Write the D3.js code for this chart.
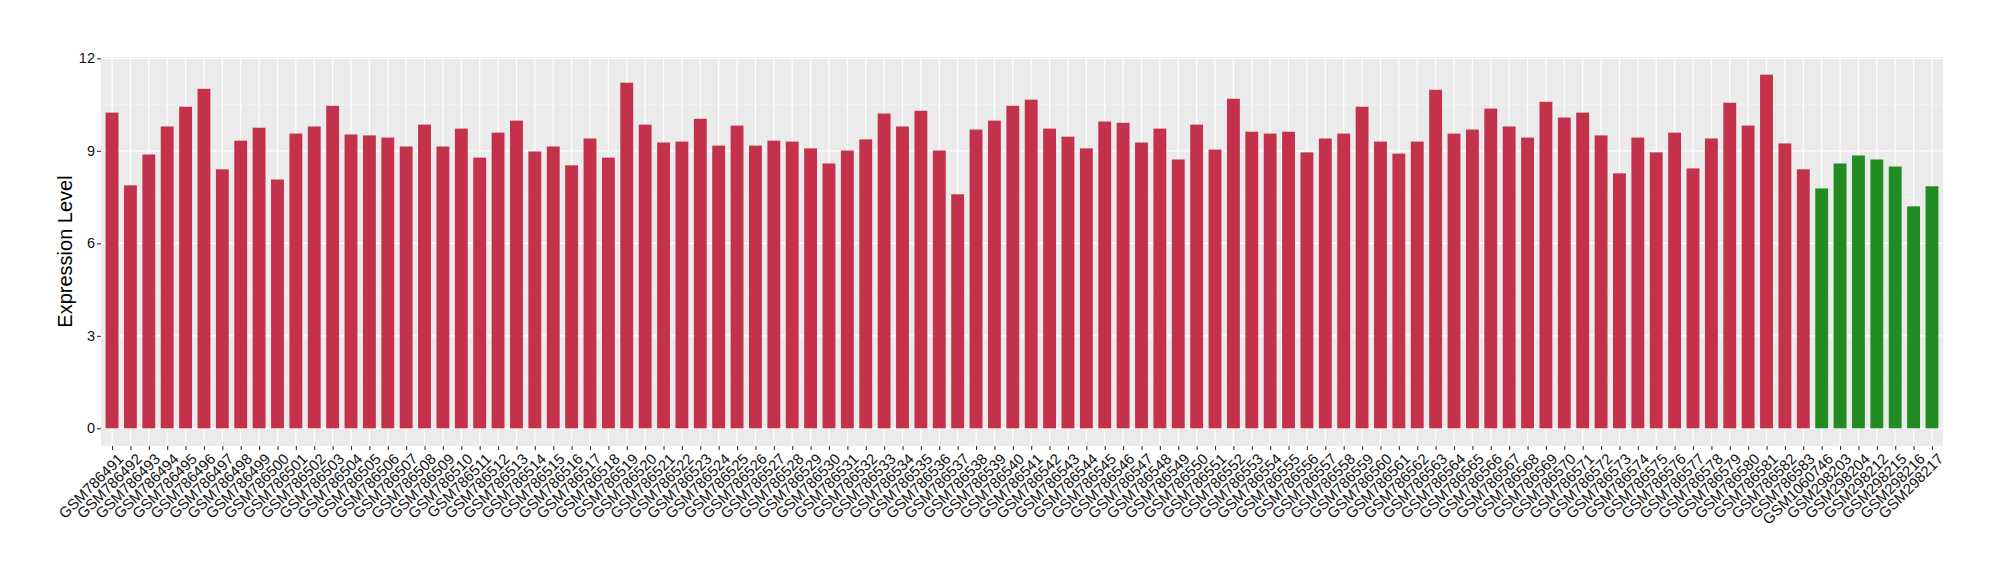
<!DOCTYPE html>
<html>
<head>
<meta charset="utf-8">
<script src="https://cdn.jsdelivr.net/npm/d3@7"></script>
<style>
    body { margin: 0; background: #ffffff; }
    svg { display: block; font-family: "Liberation Sans", Arial, Helvetica, sans-serif; }
</style>
</head>
<body>
<svg id="drawing_region"></svg>
<script>
// red group samples
const case_samples = [
    "GSM786491","GSM786492","GSM786493","GSM786494","GSM786495","GSM786496","GSM786497","GSM786498","GSM786499","GSM786500",
    "GSM786501","GSM786502","GSM786503","GSM786504","GSM786505","GSM786506","GSM786507","GSM786508","GSM786509","GSM786510",
    "GSM786511","GSM786512","GSM786513","GSM786514","GSM786515","GSM786516","GSM786517","GSM786518","GSM786519","GSM786520",
    "GSM786521","GSM786522","GSM786523","GSM786524","GSM786525","GSM786526","GSM786527","GSM786528","GSM786529","GSM786530",
    "GSM786531","GSM786532","GSM786533","GSM786534","GSM786535","GSM786536","GSM786537","GSM786538","GSM786539","GSM786540",
    "GSM786541","GSM786542","GSM786543","GSM786544","GSM786545","GSM786546","GSM786547","GSM786548","GSM786549","GSM786550",
    "GSM786551","GSM786552","GSM786553","GSM786554","GSM786555","GSM786556","GSM786557","GSM786558","GSM786559","GSM786560",
    "GSM786561","GSM786562","GSM786563","GSM786564","GSM786565","GSM786566","GSM786567","GSM786568","GSM786569","GSM786570",
    "GSM786571","GSM786572","GSM786573","GSM786574","GSM786575","GSM786576","GSM786577","GSM786578","GSM786579","GSM786580",
    "GSM786581","GSM786582","GSM786583"
];
const case_values = [
    10.24, 7.88, 8.88, 9.79, 10.43, 11.01, 8.40, 9.33, 9.75, 8.07,
    9.56, 9.79, 10.46, 9.53, 9.50, 9.43, 9.14, 9.85, 9.14, 9.72,
    8.78, 9.59, 9.98, 8.98, 9.14, 8.53, 9.40, 8.78, 11.21, 9.85,
    9.27, 9.30, 10.04, 9.17, 9.82, 9.17, 9.33, 9.30, 9.08, 8.59,
    9.01, 9.37, 10.21, 9.79, 10.30, 9.01, 7.59, 9.69, 9.98, 10.46,
    10.66, 9.72, 9.46, 9.08, 9.95, 9.91, 9.27, 9.72, 8.72, 9.85,
    9.04, 10.69, 9.62, 9.56, 9.62, 8.95, 9.40, 9.56, 10.43, 9.30,
    8.91, 9.30, 10.98, 9.56, 9.69, 10.37, 9.79, 9.43, 10.59, 10.08,
    10.24, 9.50, 8.27, 9.43, 8.95, 9.59, 8.43, 9.40, 10.56, 9.82,
    11.47, 9.24, 8.40
];

// green group samples
const control_samples = ["GSM1060746","GSM298203","GSM298204","GSM298212","GSM298215","GSM298216","GSM298217"];
const control_values = [7.78, 8.59, 8.85, 8.72, 8.49, 7.20, 7.85];

const y_ticks = [0, 3, 6, 9, 12];
const y_minor_ticks = [1.5, 4.5, 7.5, 10.5];

const data = case_samples.map((s, i) => ({ label: s, value: case_values[i], group: "case" }))
    .concat(control_samples.map((s, i) => ({ label: s, value: control_values[i], group: "control" })));

class ExpressionChart {

    constructor( config, data ) {
        this.config = {
            parent: config.parent,
            width: config.width || 2000,
            height: config.height || 580,
            margin: config.margin,
            ylabel: config.ylabel
        }
        this.data = data;
        this.init();
    }

    init() {
        let self = this;

        self.svg = d3.select( self.config.parent )
            .attr('width', self.config.width)
            .attr('height', self.config.height);

        self.inner_width = self.config.width - self.config.margin.left - self.config.margin.right;
        self.inner_height = self.config.height - self.config.margin.top - self.config.margin.bottom;

        self.chart = self.svg.append('g')
            .attr('transform', `translate(${self.config.margin.left}, ${self.config.margin.top})`);

        // ggplot style discrete axis: 0.6 step of padding on both sides
        self.xscale = d3.scalePoint()
            .range( [0, self.inner_width] )
            .padding(0.6);

        self.yscale = d3.scaleLinear()
            .range( [self.inner_height, 0] );

        self.color = d3.scaleOrdinal()
            .domain(["case", "control"])
            .range(["#c3314a", "#228b22"]);

        self.chart.append('rect')
            .attr('width', self.inner_width)
            .attr('height', self.inner_height)
            .attr('fill', '#ebebeb');

        self.grid_group = self.chart.append('g');
        self.bar_group = self.chart.append('g');

        self.xaxis_group = self.chart.append('g')
            .attr('transform', `translate(0, ${self.inner_height})`);
        self.yaxis_group = self.chart.append('g');

        self.svg.append("text")
            .attr("transform", `translate(72, ${self.config.margin.top + self.inner_height / 2}) rotate(-90)`)
            .attr("text-anchor", "middle")
            .style("font-size", "20px")
            .style("fill", "#000")
            .text(self.config.ylabel);
    }

    update() {
        let self = this;

        self.xscale.domain( self.data.map(d => d.label) );

        const ymax = d3.max( self.data, d => d.value );
        self.yscale.domain( [-0.05 * ymax, ymax * 1.05] );

        self.render();
    }

    render() {
        let self = this;
        const bw = self.xscale.step() * 0.7;

        self.grid_group.selectAll('.minor')
            .data(y_minor_ticks)
            .join('line')
            .attr('class', 'minor')
            .attr('x1', 0).attr('x2', self.inner_width)
            .attr('y1', d => self.yscale(d)).attr('y2', d => self.yscale(d))
            .attr('stroke', '#f7f7f7')
            .attr('stroke-width', 0.6);

        self.grid_group.selectAll('.major')
            .data(y_ticks)
            .join('line')
            .attr('class', 'major')
            .attr('x1', 0).attr('x2', self.inner_width)
            .attr('y1', d => self.yscale(d)).attr('y2', d => self.yscale(d))
            .attr('stroke', '#ffffff')
            .attr('stroke-width', 1.2);

        self.grid_group.selectAll('.vmajor')
            .data(self.data)
            .join('line')
            .attr('class', 'vmajor')
            .attr('x1', d => self.xscale(d.label)).attr('x2', d => self.xscale(d.label))
            .attr('y1', 0).attr('y2', self.inner_height)
            .attr('stroke', '#ffffff')
            .attr('stroke-width', 1.2);

        self.bar_group.selectAll("rect")
            .data(self.data)
            .join("rect")
            .attr("x", d => self.xscale(d.label) - bw / 2)
            .attr("y", d => self.yscale(d.value))
            .attr("height", d => self.yscale(0) - self.yscale(d.value))
            .attr("width", bw)
            .style("fill", d => self.color(d.group));

        self.xaxis = d3.axisBottom( self.xscale )
            .tickSize(4)
            .tickSizeOuter(0);

        self.xaxis_group.call( self.xaxis );
        self.xaxis_group.select('.domain').remove();
        self.xaxis_group.selectAll('.tick line')
            .attr('stroke', '#333333')
            .attr('stroke-width', 1.1);
        self.xaxis_group.selectAll('.tick text')
            .attr('y', 0)
            .attr('dy', 0)
            .attr('transform', 'translate(4, 6) rotate(-45)')
            .attr('text-anchor', 'end')
            .attr('dominant-baseline', 'hanging')
            .style('font-size', '15px')
            .style('fill', '#111111');

        self.yaxis = d3.axisLeft( self.yscale )
            .tickValues(y_ticks)
            .tickSize(4)
            .tickPadding(2)
            .tickSizeOuter(0);

        self.yaxis_group.call( self.yaxis );
        self.yaxis_group.select('.domain').remove();
        self.yaxis_group.selectAll('.tick line')
            .attr('stroke', '#333333')
            .attr('stroke-width', 1.1);
        self.yaxis_group.selectAll('.tick text')
            .style('font-size', '14.5px')
            .style('fill', '#111111');
    }
}

const chart = new ExpressionChart({
    parent: '#drawing_region',
    width: 2000,
    height: 580,
    margin: { top: 57, right: 57, bottom: 134, left: 101 },
    ylabel: "Expression Level"
}, data);
chart.update();
</script>
</body>
</html>
